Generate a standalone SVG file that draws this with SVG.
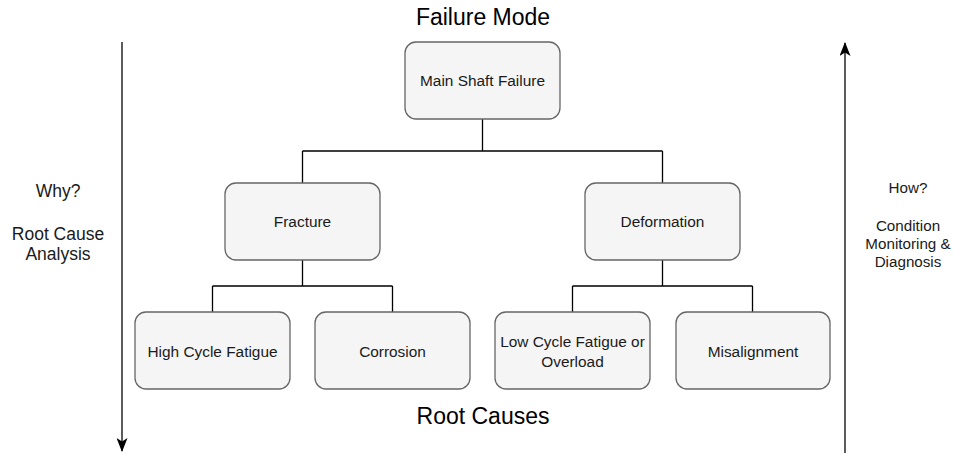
<svg xmlns="http://www.w3.org/2000/svg" width="953" height="454" viewBox="0 0 953 454">
  <style>
    .node rect { fill: #f5f5f5; stroke: #666666; stroke-width: 1.3; }
    .node text, .lbl { font-family: "Liberation Sans", Arial, sans-serif; font-size: 15.4px; fill: #1a1a1a; text-anchor: middle; }
    .side-l { font-size: 17.5px; }
    .side-r { font-size: 15.2px; }
    .title { font-family: "Liberation Sans", Arial, sans-serif; font-size: 23px; fill: #000000; text-anchor: middle; }
    .edge { fill: none; stroke: #000000; stroke-width: 1.3; }
    .axis { fill: none; stroke: #333333; stroke-width: 1.6; }
  </style>
  <defs>
    <!-- classic notched arrowhead for the two side axes -->
    <marker id="arrow" viewBox="0 0 14 11" refX="13" refY="5.5" markerWidth="14" markerHeight="11" orient="auto" markerUnits="userSpaceOnUse">
      <path d="M0,0 L14,5.5 L0,11 L3.5,5.5 Z" fill="#000000"/>
    </marker>
  </defs>
  <rect width="953" height="454" fill="#ffffff"/>

  <text class="title" x="483" y="25">Failure Mode</text>
  <text class="title" x="483" y="424">Root Causes</text>

  <g id="axes">
    <line class="axis" x1="122" y1="42" x2="122" y2="451" marker-end="url(#arrow)"/>
    <line class="axis" x1="845" y1="453" x2="845" y2="43" marker-end="url(#arrow)"/>
  </g>

  <g id="side-left">
    <text class="lbl side-l" x="58" y="197">Why?</text>
    <text class="lbl side-l" x="58" y="240">Root Cause</text>
    <text class="lbl side-l" x="58" y="260">Analysis</text>
  </g>
  <g id="side-right">
    <text class="lbl side-r" x="908" y="193">How?</text>
    <text class="lbl side-r" x="908" y="231">Condition</text>
    <text class="lbl side-r" x="908" y="249">Monitoring &amp;</text>
    <text class="lbl side-r" x="908" y="267">Diagnosis</text>
  </g>

  <g id="connectors">
    <path class="edge" d="M482.5,119 V151 M302.5,151 H662.5 M302.5,151 V183 M662.5,151 V183"/>
    <path class="edge" d="M302.5,260 V286 M212.5,286 H392.5 M212.5,286 V312 M392.5,286 V312"/>
    <path class="edge" d="M662.5,260 V286 M572.5,286 H752.5 M572.5,286 V312 M752.5,286 V312"/>
  </g>

  <g id="main-shaft-failure" class="node">
    <rect x="405" y="42" width="155" height="77" rx="11"/>
    <text x="482.5" y="86">Main Shaft Failure</text>
  </g>
  <g id="fracture" class="node">
    <rect x="225" y="183" width="155" height="77" rx="11"/>
    <text x="302.5" y="227">Fracture</text>
  </g>
  <g id="deformation" class="node">
    <rect x="585" y="183" width="155" height="77" rx="11"/>
    <text x="662.5" y="227">Deformation</text>
  </g>
  <g id="high-cycle-fatigue" class="node">
    <rect x="135" y="312" width="155" height="77" rx="11"/>
    <text x="212.5" y="357">High Cycle Fatigue</text>
  </g>
  <g id="corrosion" class="node">
    <rect x="315" y="312" width="155" height="77" rx="11"/>
    <text x="392.5" y="357">Corrosion</text>
  </g>
  <g id="low-cycle-fatigue" class="node">
    <rect x="495" y="312" width="155" height="77" rx="11"/>
    <text x="572.5" y="347">Low Cycle Fatigue or</text>
    <text x="572.5" y="367">Overload</text>
  </g>
  <g id="misalignment" class="node">
    <rect x="676" y="312" width="154" height="77" rx="11"/>
    <text x="753" y="357">Misalignment</text>
  </g>
</svg>
